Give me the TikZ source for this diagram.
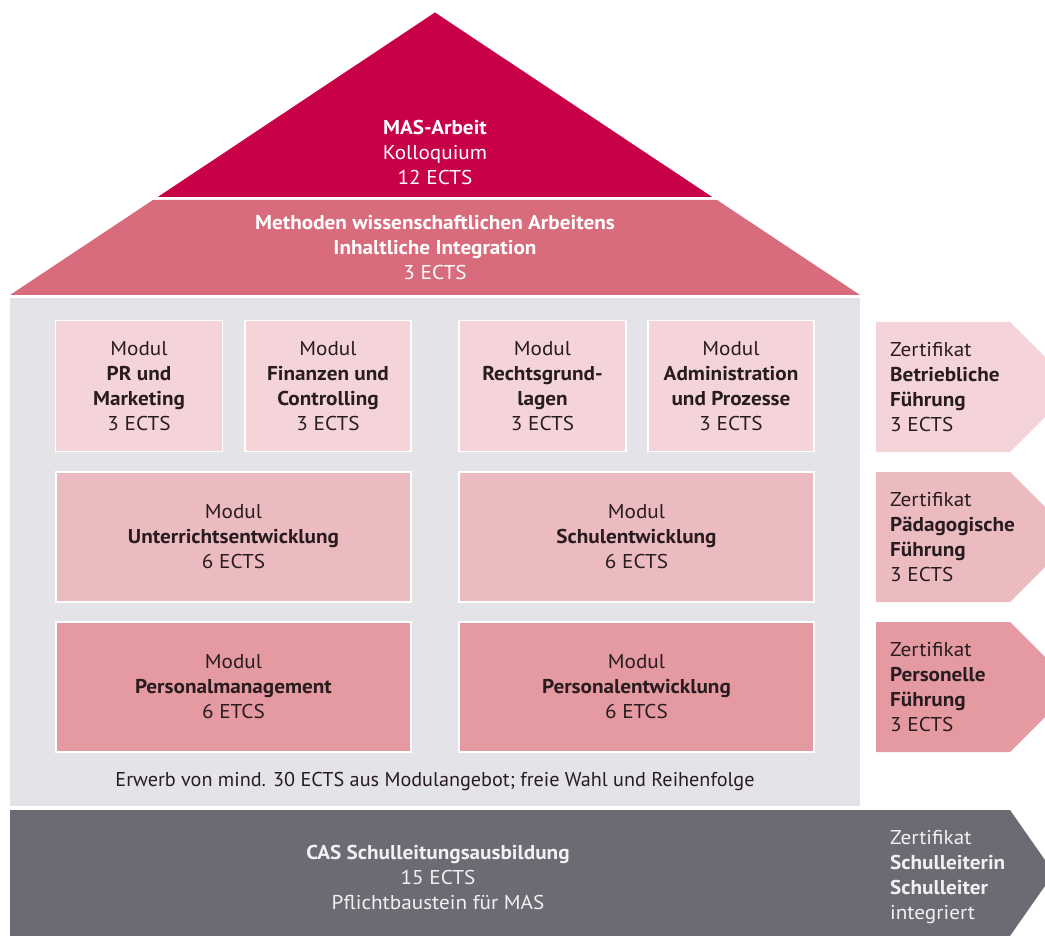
\documentclass[tikz,border=0pt]{standalone}
\usepackage{fontspec}
\setmainfont{PT Sans}[FakeStretch=1.06]
\newfontfamily\condfont{PT Sans}[FakeStretch=1.01]
\definecolor{roofdark}{RGB}{200,0,72}
\definecolor{roofmid}{RGB}{217,108,124}
\definecolor{bodygray}{RGB}{228,228,232}
\definecolor{pinkA}{RGB}{244,212,216}
\definecolor{pinkB}{RGB}{236,187,191}
\definecolor{pinkC}{RGB}{229,154,161}
\definecolor{bargray}{RGB}{108,107,115}
\definecolor{txtdark}{RGB}{40,28,32}
\definecolor{txtlight}{RGB}{242,240,242}
\begin{document}
\begin{tikzpicture}[x=1pt,y=-1pt,
  modbox/.style={draw=white, line width=1.2pt, text=txtdark, align=center,
    font=\fontsize{20}{25}\selectfont, inner sep=0pt},
  certtext/.style={anchor=west, align=left, text=txtdark, inner sep=0pt,
    font=\fontsize{20}{25}\selectfont},
  rooftext/.style={align=center, text=white, inner sep=0pt,
    font=\fontsize{20}{25}\selectfont},
  barshape/.style={fill=bargray, draw=none}
]
\useasboundingbox (0,0) rectangle (1045,936);
\fill[white] (0,0) rectangle (1045,936);
\clip (0,0) rectangle (1045,936);

% roof
\fill[roofdark] (435,12.5) -- (712.2,197) -- (157.8,197) -- cycle;
\fill[roofmid] (153,200) -- (717,200) -- (860,295) -- (10,295) -- cycle;
\node[rooftext] (mas) at (435,152) {\textbf{MAS-Arbeit}\\Kolloquium\\12 ECTS};
\node[rooftext] (meth) at (435,248) {\textbf{Methoden wissenschaftlichen Arbeitens}\\\textbf{Inhaltliche Integration}\\3 ECTS};

% body
\fill[bodygray] (10,298) rectangle (860,806);

% row 1
\node[modbox, fill=pinkA, minimum width=167, minimum height=131] (pr) at (139,386)
  {Modul\\\textbf{PR und}\\\textbf{Marketing}\\3 ECTS};
\node[modbox, fill=pinkA, minimum width=166, minimum height=131] (fin) at (328,386)
  {Modul\\\textbf{Finanzen und}\\\textbf{Controlling}\\3 ECTS};
\node[modbox, fill=pinkA, minimum width=167, minimum height=131] (recht) at (542.5,386)
  {Modul\\\textbf{Rechtsgrund-}\\\textbf{lagen}\\3 ECTS};
\node[modbox, fill=pinkA, minimum width=166, minimum height=131] (admin) at (731,386)
  {Modul\\\textbf{Administration}\\\textbf{und Prozesse}\\3 ECTS};

% row 2
\node[modbox, fill=pinkB, minimum width=355, minimum height=130] (unt) at (233.5,537)
  {Modul\\\textbf{Unterrichtsentwicklung}\\6 ECTS};
\node[modbox, fill=pinkB, minimum width=355, minimum height=130] (schul) at (636.5,537)
  {Modul\\\textbf{Schulentwicklung}\\6 ECTS};

% row 3
\node[modbox, fill=pinkC, minimum width=355, minimum height=130] (pm) at (233.5,687)
  {Modul\\\textbf{Personalmanagement}\\6 ETCS};
\node[modbox, fill=pinkC, minimum width=355, minimum height=130] (pe) at (636.5,687)
  {Modul\\\textbf{Personalentwicklung}\\6 ETCS};

\node[inner sep=0pt, text=txtdark, font=\condfont\fontsize{20}{25}\selectfont] (erwerb) at (435,781)
  {Erwerb von mind. 30 ECTS aus Modulangebot; freie Wahl und Reihenfolge};

% certificates
\fill[pinkA] (876,322) -- (1010,322) -- (1075,387) -- (1010,452) -- (876,452) -- cycle;
\node[certtext] (c1) at (890,387) {Zertifikat\\\textbf{Betriebliche}\\\textbf{Führung}\\3 ECTS};
\fill[pinkB] (876,472) -- (1010,472) -- (1075,537) -- (1010,602) -- (876,602) -- cycle;
\node[certtext] (c2) at (890,537) {Zertifikat\\\textbf{Pädagogische}\\\textbf{Führung}\\3 ECTS};
\fill[pinkC] (876,622) -- (1010,622) -- (1075,687) -- (1010,752) -- (876,752) -- cycle;
\node[certtext] (c3) at (890,687) {Zertifikat\\\textbf{Personelle}\\\textbf{Führung}\\3 ECTS};

% bottom bar
\path[barshape] (10,810) -- (1010,810) -- (1054,873) -- (1010,936) -- (10,936) -- cycle;
\node[rooftext, text=txtlight] (cas) at (438,877)
  {\textbf{CAS Schulleitungsausbildung}\\15 ECTS\\Pflichtbaustein für MAS};
\node[certtext, text=txtlight] (c4) at (890,877)
  {Zertifikat\\\textbf{Schulleiterin}\\\textbf{Schulleiter}\\integriert};
\end{tikzpicture}
\end{document}
